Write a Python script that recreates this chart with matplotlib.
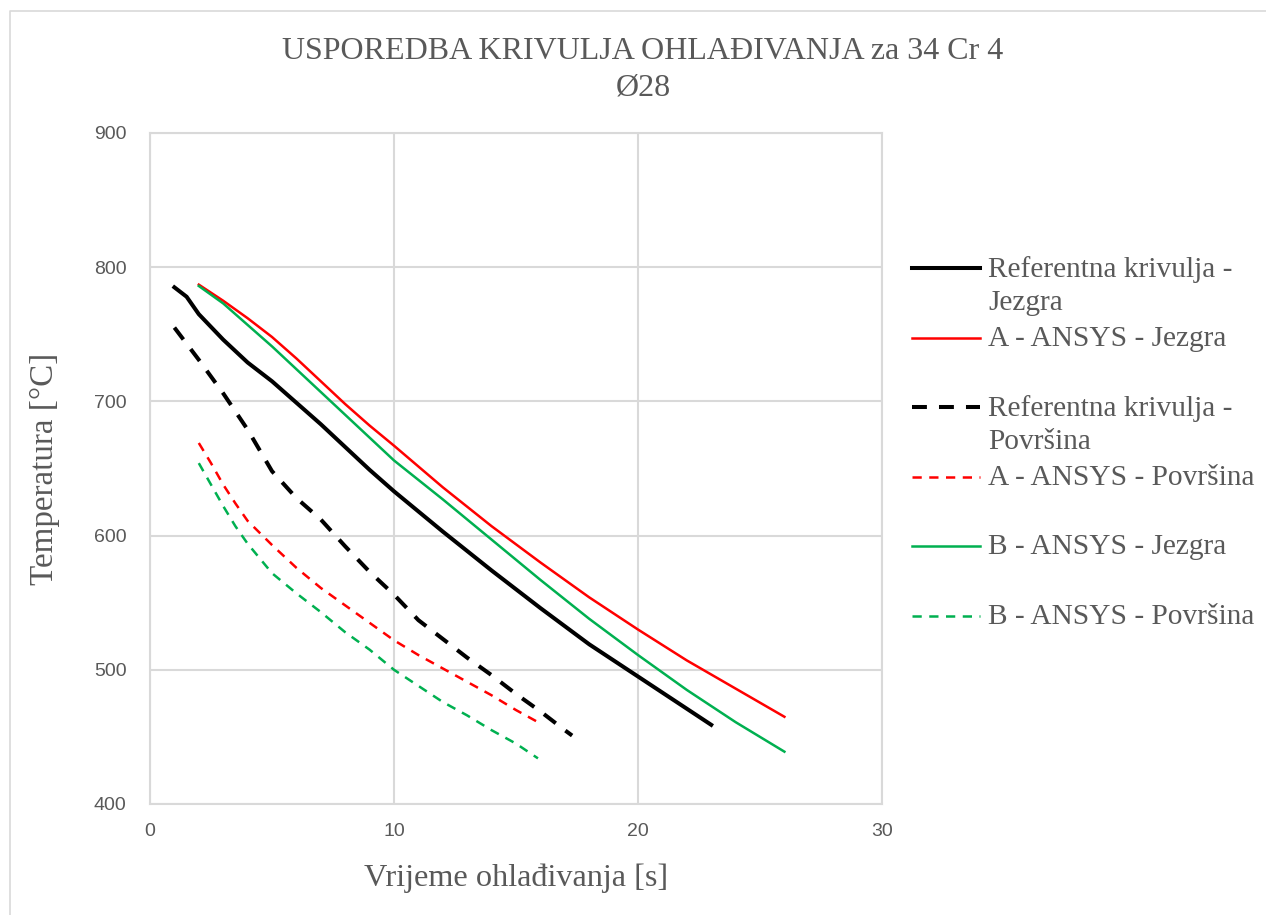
import numpy as np
import matplotlib.pyplot as plt
from matplotlib.lines import Line2D

# --- data ---
t_ref_core = [1, 1.5, 2, 3, 4, 5, 6, 7, 8, 9, 10, 12, 14, 16, 18, 20, 22, 23]
T_ref_core = [785, 778, 765, 746, 729, 715, 699, 683, 666, 649, 633, 603, 574, 546, 519, 495, 471, 459]

t_a_core = [2, 3, 4, 5, 6, 7, 8, 9, 10, 12, 14, 16, 18, 20, 22, 24, 26]
T_a_core = [787, 775, 762, 748, 732, 715, 698, 682, 667, 636, 607, 580, 554, 530, 507, 486, 465]

t_ref_surf = [1, 2, 3, 4, 5, 6, 7, 8, 9, 10, 11, 12, 13, 14, 15, 16, 17, 17.3]
T_ref_surf = [755, 731, 706, 679, 648, 628, 612, 592, 573, 556, 537, 523, 509, 496, 482, 469, 455, 451]

t_a_surf = [2, 2.5, 3, 3.5, 4, 5, 6, 7, 8, 9, 10, 11, 12, 13, 14, 15, 16]
T_a_surf = [669, 654, 638, 624, 611, 593, 576, 561, 548, 535, 522, 511, 501, 491, 481, 470, 460]

t_b_core = [2, 3, 4, 5, 6, 7, 8, 9, 10, 12, 14, 16, 18, 20, 22, 24, 26]
T_b_core = [786, 773, 757, 741, 724, 707, 690, 673, 656, 627, 597, 567, 538, 511, 485, 461, 439]

t_b_surf = [2, 2.5, 3, 3.5, 4, 5, 6, 7, 8, 9, 10, 11, 12, 13, 14, 15, 15.9]
T_b_surf = [654, 638, 622, 607, 594, 572, 557, 543, 528, 515, 500, 488, 476, 466, 455, 445, 434]

labels = ["Referentna krivulja -\nJezgra", "A - ANSYS - Jezgra",
          "Referentna krivulja -\nPovršina", "A - ANSYS - Površina",
          "B - ANSYS - Jezgra", "B - ANSYS - Površina"]

serif = "Liberation Serif"
sans = "Liberation Sans"
gray = "#595959"
dash = (0, (3.7, 3))

fig = plt.figure(figsize=(12.66, 9.15), dpi=100)
ax = fig.add_axes([150 / 1266, 1 - 804 / 915, 732 / 1266, 671 / 915])

series = [
    (t_ref_core, T_ref_core, "black", 2.9, "-"),
    (t_a_core, T_a_core, "#ff0000", 1.8, "-"),
    (t_ref_surf, T_ref_surf, "black", 2.9, dash),
    (t_a_surf, T_a_surf, "#ff0000", 1.8, dash),
    (t_b_core, T_b_core, "#00b050", 1.8, "-"),
    (t_b_surf, T_b_surf, "#00b050", 1.8, dash),
]
for x, y, c, lw, ls in series:
    ax.plot(x, y, color=c, lw=lw, linestyle=ls)

ax.set_xlim(0, 30)
ax.set_ylim(400, 900)
ax.set_xticks([0, 10, 20, 30])
ax.set_yticks([400, 500, 600, 700, 800, 900])
ax.grid(True, color="#d9d9d9", lw=1.5)
ax.set_axisbelow(True)
for s in ax.spines.values():
    s.set_color("#d9d9d9")
    s.set_linewidth(1.5)
ax.tick_params(length=0, labelsize=14, labelcolor=gray)
ax.tick_params(axis="x", pad=14)
ax.tick_params(axis="y", pad=17)
for lab in ax.get_xticklabels() + ax.get_yticklabels():
    lab.set_family(sans)

ax.set_xlabel("Vrijeme ohlađivanja [s]", family=serif, fontsize=23.2, color=gray, va="center")
ax.set_ylabel("Temperatura [°C]", family=serif, fontsize=23.8, color=gray, va="center")
ax.xaxis.set_label_coords(0.5, (804 - 878) / 671)
ax.yaxis.set_label_coords((45 - 150) / 732, 0.5)

fig.text(643 / 1266, 1 - 70 / 915, "USPOREDBA KRIVULJA OHLAĐIVANJA za 34 Cr 4\nØ28",
         family=serif, fontsize=23, color=gray, ha="center", va="center", linespacing=1.32)

# legend drawn by hand so the handle sits on the first text line, like Excel
slot = 69.6
for i, (lab, (x, y, c, lw, ls)) in enumerate(zip(labels, series)):
    ypx = 268 + i * slot
    yf = 1 - ypx / 915
    fig.add_artist(Line2D([912 / 1266, 980 / 1266], [yf, yf], color=c, lw=lw, linestyle=ls))
    fig.text(988 / 1266, 1 - (ypx - 12) / 915, lab, family=serif, fontsize=21.2, color=gray,
             ha="left", va="top", linespacing=1.35)

# chart border
fig.add_artist(Line2D([9.5 / 1266, 9.5 / 1266, 1], [0, 1 - 11 / 915, 1 - 11 / 915],
                      color="#d9d9d9", lw=1.2))

fig.savefig("out.png", dpi=100)
